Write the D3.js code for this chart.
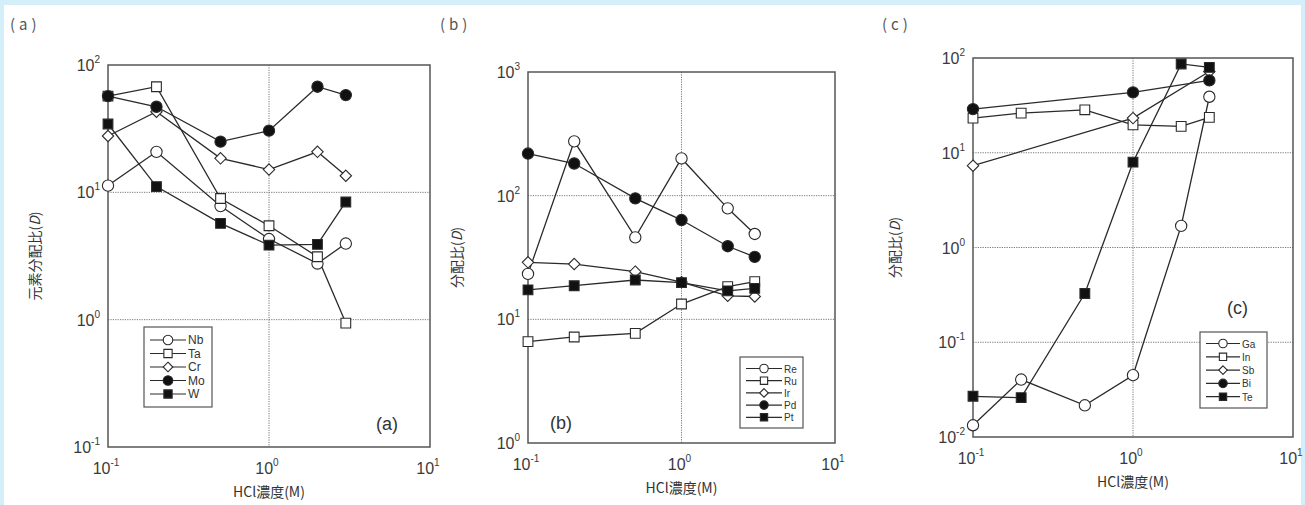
<!DOCTYPE html>
<html>
<head>
<meta charset="utf-8">
<script src="https://cdn.jsdelivr.net/npm/d3@7"></script>
<style>
  body { margin: 0; background: #d4eefa; }
  svg { display: block; }
  .tick-label { font-family: "Liberation Sans", Arial, sans-serif; fill: #3a3a3a; }
  .ax-title { font-family: "Noto Sans CJK JP", "Noto Sans", sans-serif; fill: #333; font-size: 14px; }
  .legend text { font-family: "Liberation Sans", Arial, sans-serif; fill: #333; }
</style>
</head>
<body>
<svg class="chart"></svg>
<script>
// -------------------- Data --------------------
// HCl concentration (M) used for most runs
var hclConc = [0.1, 0.2, 0.5, 1, 2, 3];
// Sb and Bi were only measured at three points
var shortConc = [0.1, 1, 3];

// panel (a)
var namesA = ["Nb", "Ta", "Cr", "Mo", "W"];
var nbD = [11.3, 20.8, 7.8, 4.3, 2.76, 3.96];
var taD = [57, 67.5, 8.95, 5.46, 3.12, 0.94];
var crD = [27.7, 43, 18.5, 15.1, 20.8, 13.5];
var moD = [57, 47, 25, 30.5, 67.5, 58];
var wD  = [34.4, 11.1, 5.7, 3.85, 3.9, 8.4];

// panel (b)
var namesB = ["Re", "Ru", "Ir", "Pd", "Pt"];
var reD = [23.3, 275, 46, 200, 79, 49];
var ruD = [6.6, 7.2, 7.7, 13.3, 18.4, 20.2];
var irD = [28.9, 28, 24.3, 20, 15.5, 15.3];
var pdD = [219, 182, 95, 63.5, 39, 32];
var ptD = [17.3, 18.7, 20.8, 19.8, 17, 17.8];

// panel (c)
var namesC = ["Ga", "In", "Sb", "Bi", "Te"];
var gaD = [0.0133, 0.0404, 0.0216, 0.0449, 1.69, 39];
var inD = [23.2, 26.2, 28.4, 19.7, 19, 23.6];
var sbD = [7.3, 23.2, 72];
var biD = [28.9, 43.4, 58];
var teD = [0.0269, 0.026, 0.327, 7.95, 86.5, 79.6];

// tick exponents
var xExps = [-1, 0, 1];
var yExpsA = [-1, 0, 1, 2];
var yExpsB = [0, 1, 2, 3];
var yExpsC = [-2, -1, 0, 1, 2];

// marker kinds, same order in every panel
var markers = ["circle", "square", "diamond", "dot", "block"];

// -------------------- Settings --------------------
var W = 1305, H = 505;

var svg = d3.select(".chart").attr("width", W).attr("height", H);

// white sheet inside the light blue frame
svg.append("rect").attr("x", 4).attr("y", 5).attr("width", W - 8).attr("height", H - 5).attr("fill", "#fff");

function sup(sel, exp) {
  sel.append("tspan").text("10");
  sel.append("tspan").attr("dy", -8).attr("font-size", 10).text(exp);
}

// a diamond as wide as it is tall
var squareDiamond = {
  draw: function(context, size) {
    var r = Math.sqrt(size) / 2;
    context.moveTo(0, -r);
    context.lineTo(r, 0);
    context.lineTo(0, r);
    context.lineTo(-r, 0);
    context.closePath();
  }
};

function styleMarker(sel, kind, k) {
  var sym;
  if (kind === "circle" || kind === "dot") sym = d3.symbol(d3.symbolCircle, 100 * k * k);
  else if (kind === "square" || kind === "block") sym = d3.symbol(d3.symbolSquare, 95 * k * k);
  else sym = d3.symbol(squareDiamond, 130 * k * k);
  var filled = (kind === "dot" || kind === "block");
  sel.attr("d", sym)
    .attr("fill", filled ? "#111" : "#fff")
    .attr("stroke", "#2a2a2a").attr("stroke-width", 1.1);
}

function drawPanel(p) {
  var x = d3.scaleLog().domain([0.1, 10]).range([p.left, p.right]);
  var y = d3.scaleLog().domain(p.ydom).range([p.bottom, p.top]);

  var g = svg.append("g");

  // tag in top-left corner
  g.append("text")
    .attr("x", p.tagX).attr("y", 30)
    .attr("font-family", "Noto Sans CJK JP")
    .attr("font-size", 15).attr("fill", "#555")
    .attr("letter-spacing", 4)
    .text("(" + p.tag + ")");

  // dotted decade grid
  xExps.slice(1, -1).forEach(function(e) {
    g.append("line")
      .attr("x1", x(Math.pow(10, e))).attr("x2", x(Math.pow(10, e)))
      .attr("y1", p.top).attr("y2", p.bottom)
      .attr("stroke", "#777").attr("stroke-dasharray", "1.2,1.2");
  });
  p.yExps.slice(1, -1).forEach(function(e) {
    g.append("line")
      .attr("x1", p.left).attr("x2", p.right)
      .attr("y1", y(Math.pow(10, e))).attr("y2", y(Math.pow(10, e)))
      .attr("stroke", "#777").attr("stroke-dasharray", "1.2,1.2");
  });

  // frame
  g.append("rect")
    .attr("x", p.left).attr("y", p.top)
    .attr("width", p.right - p.left).attr("height", p.bottom - p.top)
    .attr("fill", "none").attr("stroke", "#555").attr("stroke-width", 1.5);

  // tick labels
  xExps.forEach(function(e) {
    var t = g.append("text").attr("class", "tick-label")
      .attr("x", x(Math.pow(10, e)) - 2).attr("y", p.bottom + 27)
      .attr("text-anchor", "middle").attr("font-size", 16);
    sup(t, e);
  });
  p.yExps.forEach(function(e) {
    var t = g.append("text").attr("class", "tick-label")
      .attr("x", p.left - 8).attr("y", y(Math.pow(10, e)) + 6)
      .attr("text-anchor", "end").attr("font-size", 16);
    sup(t, e);
  });

  // axis titles
  g.append("text").attr("class", "ax-title")
    .attr("x", (p.left + p.right) / 2).attr("y", p.bottom + 50)
    .attr("text-anchor", "middle")
    .text("HCl濃度(M)");

  var yt = g.append("text").attr("class", "ax-title")
    .attr("transform", "translate(" + p.ytX + "," + (p.top + p.bottom) / 2 + ") rotate(-90)")
    .attr("text-anchor", "middle");
  yt.append("tspan").text(p.ytitle + "(");
  yt.append("tspan").attr("font-style", "italic").text("D");
  yt.append("tspan").text(")");

  // series lines
  var line = d3.line()
    .x(function(d) { return x(d[0]); })
    .y(function(d) { return y(d[1]); });

  p.series.forEach(function(s) {
    var pts = d3.zip(s.xs, s.vals);
    g.append("path").datum(pts)
      .attr("d", line)
      .attr("fill", "none").attr("stroke", "#2a2a2a").attr("stroke-width", 1.3);
  });

  // markers on top of lines
  p.series.forEach(function(s, i) {
    var pts = d3.zip(s.xs, s.vals);
    g.selectAll(null).data(pts).enter().append("path")
      .attr("transform", function(d) { return "translate(" + x(d[0]) + "," + y(d[1]) + ")"; })
      .call(styleMarker, markers[i], 1);
  });

  // legend
  var lg = g.append("g").attr("class", "legend");
  lg.append("rect")
    .attr("x", p.leg.x).attr("y", p.leg.y)
    .attr("width", p.leg.w).attr("height", p.leg.h)
    .attr("fill", "#fff").attr("stroke", "#555").attr("stroke-width", 1.2);
  p.names.forEach(function(n, i) {
    var ry = p.leg.y + p.leg.pad + i * p.leg.step;
    lg.append("line")
      .attr("x1", p.leg.x + 6).attr("x2", p.leg.x + 6 + p.leg.lineW)
      .attr("y1", ry).attr("y2", ry)
      .attr("stroke", "#2a2a2a").attr("stroke-width", 1.2);
    lg.append("path")
      .attr("transform", "translate(" + (p.leg.x + 6 + p.leg.lineW / 2) + "," + ry + ")")
      .call(styleMarker, markers[i], p.leg.scale);
    lg.append("text")
      .attr("x", p.leg.x + 8 + p.leg.lineW).attr("y", ry + 4)
      .attr("font-size", p.leg.font)
      .text(n);
  });

  // inner panel label
  g.append("text")
    .attr("x", p.inner[0]).attr("y", p.inner[1])
    .attr("font-family", "Liberation Sans, Arial, sans-serif")
    .attr("font-size", 18).attr("fill", "#333")
    .text("(" + p.tag + ")");
}

// -------------------- Panels --------------------
drawPanel({
  tag: "a", tagX: 10, left: 108, right: 430, top: 65, bottom: 447,
  ydom: [0.1, 100], yExps: yExpsA, ytitle: "元素分配比", ytX: 40,
  names: namesA,
  series: [
    {xs: hclConc, vals: nbD}, {xs: hclConc, vals: taD}, {xs: hclConc, vals: crD},
    {xs: hclConc, vals: moD}, {xs: hclConc, vals: wD}
  ],
  leg: {x: 144, y: 327, w: 68, h: 80, pad: 13, step: 13.5, lineW: 36, scale: 0.85, font: 12},
  inner: [376, 430]
});

drawPanel({
  tag: "b", tagX: 440, left: 528, right: 835, top: 72, bottom: 443,
  ydom: [1, 1000], yExps: yExpsB, ytitle: "分配比", ytX: 462,
  names: namesB,
  series: [
    {xs: hclConc, vals: reD}, {xs: hclConc, vals: ruD}, {xs: hclConc, vals: irD},
    {xs: hclConc, vals: pdD}, {xs: hclConc, vals: ptD}
  ],
  leg: {x: 740, y: 357, w: 63, h: 71, pad: 11.5, step: 12.2, lineW: 36, scale: 0.75, font: 10},
  inner: [550, 429]
});

drawPanel({
  tag: "c", tagX: 882, left: 973, right: 1293, top: 58, bottom: 437,
  ydom: [0.01, 100], yExps: yExpsC, ytitle: "分配比", ytX: 900,
  names: namesC,
  series: [
    {xs: hclConc, vals: gaD}, {xs: hclConc, vals: inD}, {xs: shortConc, vals: sbD},
    {xs: shortConc, vals: biD}, {xs: hclConc, vals: teD}
  ],
  leg: {x: 1200, y: 332, w: 67, h: 76, pad: 11.5, step: 13.3, lineW: 34, scale: 0.75, font: 10},
  inner: [1227, 314]
});
</script>
</body>
</html>
